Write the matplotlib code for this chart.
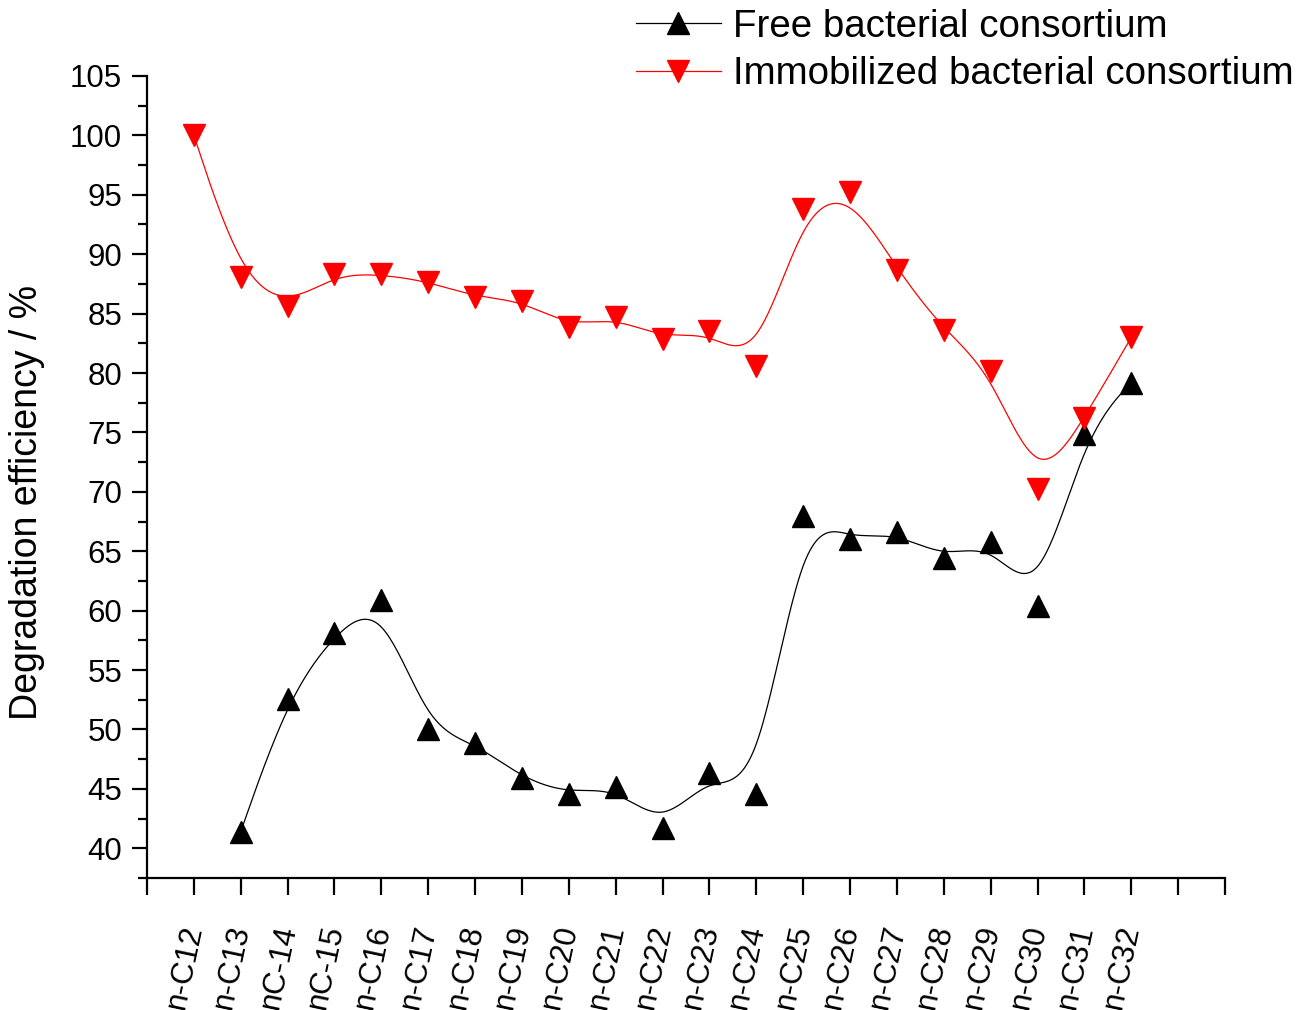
import numpy as np
import matplotlib.pyplot as plt

plt.rcParams['font.family'] = ['Liberation Sans', 'DejaVu Sans']

# alkanes n-C12 .. n-C32 (labels as printed on the original)
labels = ['n-C12', 'n-C13', 'nC-14', 'nC-15', 'n-C16', 'n-C17', 'n-C18',
          'n-C19', 'n-C20', 'n-C21', 'n-C22', 'n-C23', 'n-C24', 'n-C25',
          'n-C26', 'n-C27', 'n-C28', 'n-C29', 'n-C30', 'n-C31', 'n-C32']

# free consortium has no value at n-C12
free = [41.4, 52.6, 58.1, 60.9, 50.0, 48.9, 45.9, 44.6, 45.2, 41.7,
        46.3, 44.6, 68.0, 66.0, 66.6, 64.4, 65.8, 60.4, 74.9, 79.2]
immob = [100.0, 88.1, 85.6, 88.3, 88.3, 87.7, 86.4, 86.1, 83.9, 84.7, 82.9,
         83.5, 80.6, 93.8, 95.2, 88.7, 83.6, 80.2, 70.2, 76.2, 83.0]


def bspline(x, y, n=40):
    # uniform cubic B-spline, data points used as control points
    px = np.r_[x[0], x[0], x, x[-1], x[-1]]
    py = np.r_[y[0], y[0], y, y[-1], y[-1]]
    t = np.linspace(0, 1, n)
    b0 = (1 - t) ** 3 / 6
    b1 = (3 * t ** 3 - 6 * t ** 2 + 4) / 6
    b2 = (-3 * t ** 3 + 3 * t ** 2 + 3 * t + 1) / 6
    b3 = t ** 3 / 6
    xs, ys = [], []
    for i in range(len(px) - 3):
        xs.append(b0 * px[i] + b1 * px[i + 1] + b2 * px[i + 2] + b3 * px[i + 3])
        ys.append(b0 * py[i] + b1 * py[i + 1] + b2 * py[i + 2] + b3 * py[i + 3])
    return np.concatenate(xs), np.concatenate(ys)


x_all = np.arange(1, len(labels) + 1)
x_free = x_all[1:]

fig = plt.figure(figsize=(13.1, 10.1), dpi=100)
ax = fig.add_axes([0.1122, 0.1307, 0.8229, 0.7941])

sx, sy = bspline(x_free, np.array(free))
ax.plot(sx, sy, color='black', lw=0.9)
sx, sy = bspline(x_all, np.array(immob))
ax.plot(sx, sy, color='red', lw=0.9)
ax.plot(x_free, free, ls='none', marker='^', ms=16, color='black')
ax.plot(x_all, immob, ls='none', marker='v', ms=16, color='red')

# legend proxies
h1, = ax.plot([], [], color='black', lw=0.9, marker='^', ms=16)
h2, = ax.plot([], [], color='red', lw=0.9, marker='v', ms=16)
fig.legend([h1, h2], ['Free bacterial consortium', 'Immobilized bacterial consortium'],
           loc='center left', bbox_to_anchor=(0.4855, 0.950), frameon=False,
           fontsize=27.7, handlelength=2.2, handletextpad=0.33, labelspacing=0.3,
           borderpad=0, borderaxespad=0)

ax.set_xlim(0, 23)
ax.set_ylim(37.5, 105)
ax.set_xticks(np.arange(0, 24))
ax.set_xticklabels([''] + labels + ['', ''], rotation=78, ha='right', va='center',
                   rotation_mode='anchor')
ax.set_yticks(np.arange(40, 106, 5))
ax.set_yticks(np.arange(37.5, 105, 2.5), minor=True)

for s in ['top', 'right']:
    ax.spines[s].set_visible(False)
for s in ['left', 'bottom']:
    ax.spines[s].set_linewidth(1.6)

ax.tick_params(axis='y', which='major', length=11, width=1.6, labelsize=22.5, pad=7)
ax.tick_params(axis='y', which='minor', length=6.5, width=1.6)
ax.tick_params(axis='x', which='major', length=12, width=1.6, labelsize=22.5, pad=22)

ax.set_ylabel('Degradation efficiency / %', fontsize=27)
ax.yaxis.set_label_coords(-0.0946, 0.468)

fig.savefig('out.png', dpi=100)
